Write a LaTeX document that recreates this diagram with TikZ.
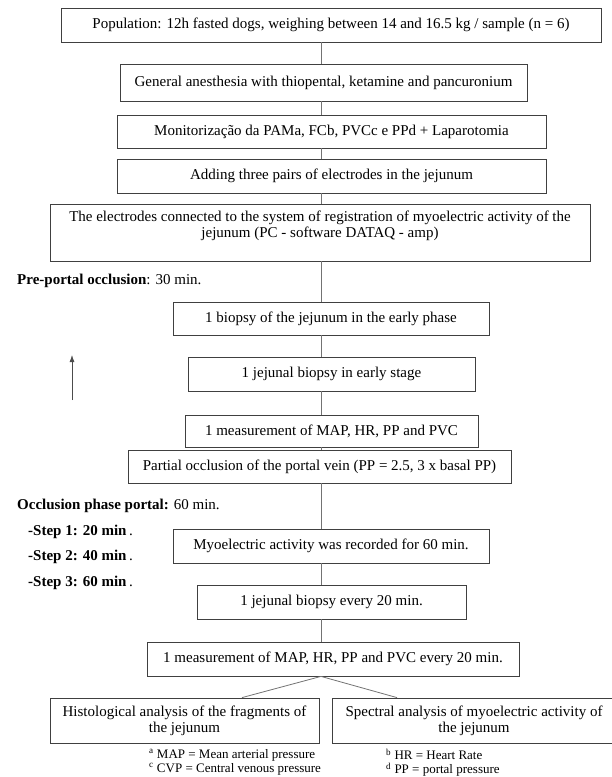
\documentclass[tikz,border=0pt]{standalone}
\usepackage{fontspec}
\setmainfont{Liberation Serif}
\usepackage{tikz}
\usetikzlibrary{arrows.meta}

\begin{document}
\begin{tikzpicture}[x=1pt, y=-1pt,
    box/.style={shape=rectangle, draw=black!75, fill=white, line width=0.8pt, inner sep=0pt, align=center, font=\fontsize{15}{16}\selectfont},
    link/.style={draw=black!55, line width=0.8pt},
    lbl/.style={anchor=west, inner sep=0pt, font=\fontsize{15}{16}\selectfont},
    note/.style={anchor=north west, inner sep=0pt, align=left, font=\fontsize{13}{14}\selectfont}]
    \useasboundingbox (0,0) rectangle (612,777);
    \coordinate (spine) at (321,0);

    \node[box, minimum width=540, minimum height=34] (pop) at (331,25) {Population: 12h fasted dogs, weighing between 14 and 16.5 kg / sample (n = 6)};
    \node[box, minimum width=407, minimum height=37] (anest) at (323.5,82.5) {General anesthesia with thiopental, ketamine and pancuronium};
    \node[box, minimum width=429, minimum height=33] (monit) at (331.5,131.5) {Monitorização da PAMa, FCb, PVCc e PPd + Laparotomia};
    \node[box, minimum width=429, minimum height=34] (elec) at (331.5,176) {Adding three pairs of electrodes in the jejunum};
    \node[box, minimum width=540, minimum height=57] (daq) at (320,232.5) {The electrodes connected to the system of registration of myoelectric activity of the\\ jejunum (PC - software DATAQ - amp)\\ {}};

    \node[lbl] (pre) at (17,281) {\textbf{Pre-portal occlusion}: 30 min.};
    \node[box, minimum width=316, minimum height=33] (bio1) at (331,318.5) {1 biopsy of the jejunum in the early phase};
    \node[box, minimum width=287, minimum height=34] (bio2) at (331.5,374) {1 jejunal biopsy in early stage};
    \node[box, minimum width=293, minimum height=32] (meas) at (331.5,431) {1 measurement of MAP, HR, PP and PVC};
    \node[box, minimum width=383, minimum height=33] (occl) at (319.5,466.5) {Partial occlusion of the portal vein (PP = 2.5, 3 x basal PP)};

    % time arrow
    \coordinate (up0) at (72,400);
    \coordinate (up1) at (72,355);
    \draw[link, draw=black!70, -{Latex[length=7pt,width=5pt]}] (up0) -- (up1);

    \node[lbl] (occ) at (17,506) {\textbf{Occlusion phase portal:} 60 min.};
    \node[lbl] (st1) at (28,532) {\textbf{-Step 1: 20 min}\,.};
    \node[lbl] (st2) at (28,557) {\textbf{-Step 2: 40 min}\,.};
    \node[lbl] (st3) at (28,583) {\textbf{-Step 3: 60 min}\,.};

    \node[box, minimum width=316, minimum height=34] (myo) at (331,546) {Myoelectric activity was recorded for 60 min.};
    \node[box, minimum width=269, minimum height=34] (bio3) at (331.5,602) {1 jejunal biopsy every 20 min.};
    \node[box, minimum width=372, minimum height=34] (meas2) at (333,659) {1 measurement of MAP, HR, PP and PVC every 20 min.};
    \node[box, minimum width=269, minimum height=45] (histo) at (184.5,720.5) {Histological analysis of the fragments of\\ the jejunum};
    \node[box, minimum width=284, minimum height=45] (spec) at (474,720.5) {Spectral analysis of myoelectric activity of\\ the jejunum};

    \node[note] (n1) at (149,749) {\textsuperscript{a} MAP = Mean arterial pressure\\ \textsuperscript{c} CVP = Central venous pressure};
    \node[note] (n2) at (386,749) {\textsuperscript{b} HR = Heart Rate\\ \textsuperscript{d} PP = portal pressure};

    \draw[link] (pop.south -| spine) -- (anest.north -| spine);
    \draw[link] (anest.south -| spine) -- (monit.north -| spine);
    \draw[link] (monit.south -| spine) -- (elec.north -| spine);
    \draw[link] (elec.south -| spine) -- (daq.north -| spine);
    \draw[link] (daq.south -| spine) -- (bio1.north -| spine);
    \draw[link] (bio1.south -| spine) -- (bio2.north -| spine);
    \draw[link] (bio2.south -| spine) -- (meas.north -| spine);
    \draw[link] (meas.south -| spine) -- (occl.north -| spine);
    \draw[link] (occl.south -| spine) -- (myo.north -| spine);
    \draw[link] (myo.south -| spine) -- (bio3.north -| spine);
    \draw[link] (bio3.south -| spine) -- (meas2.north -| spine);
    \draw[link] (meas2.south -| spine) -- ([xshift=57.5]histo.north);
    \draw[link] (meas2.south -| spine) -- ([xshift=-77]spec.north);
\end{tikzpicture}
\end{document}
